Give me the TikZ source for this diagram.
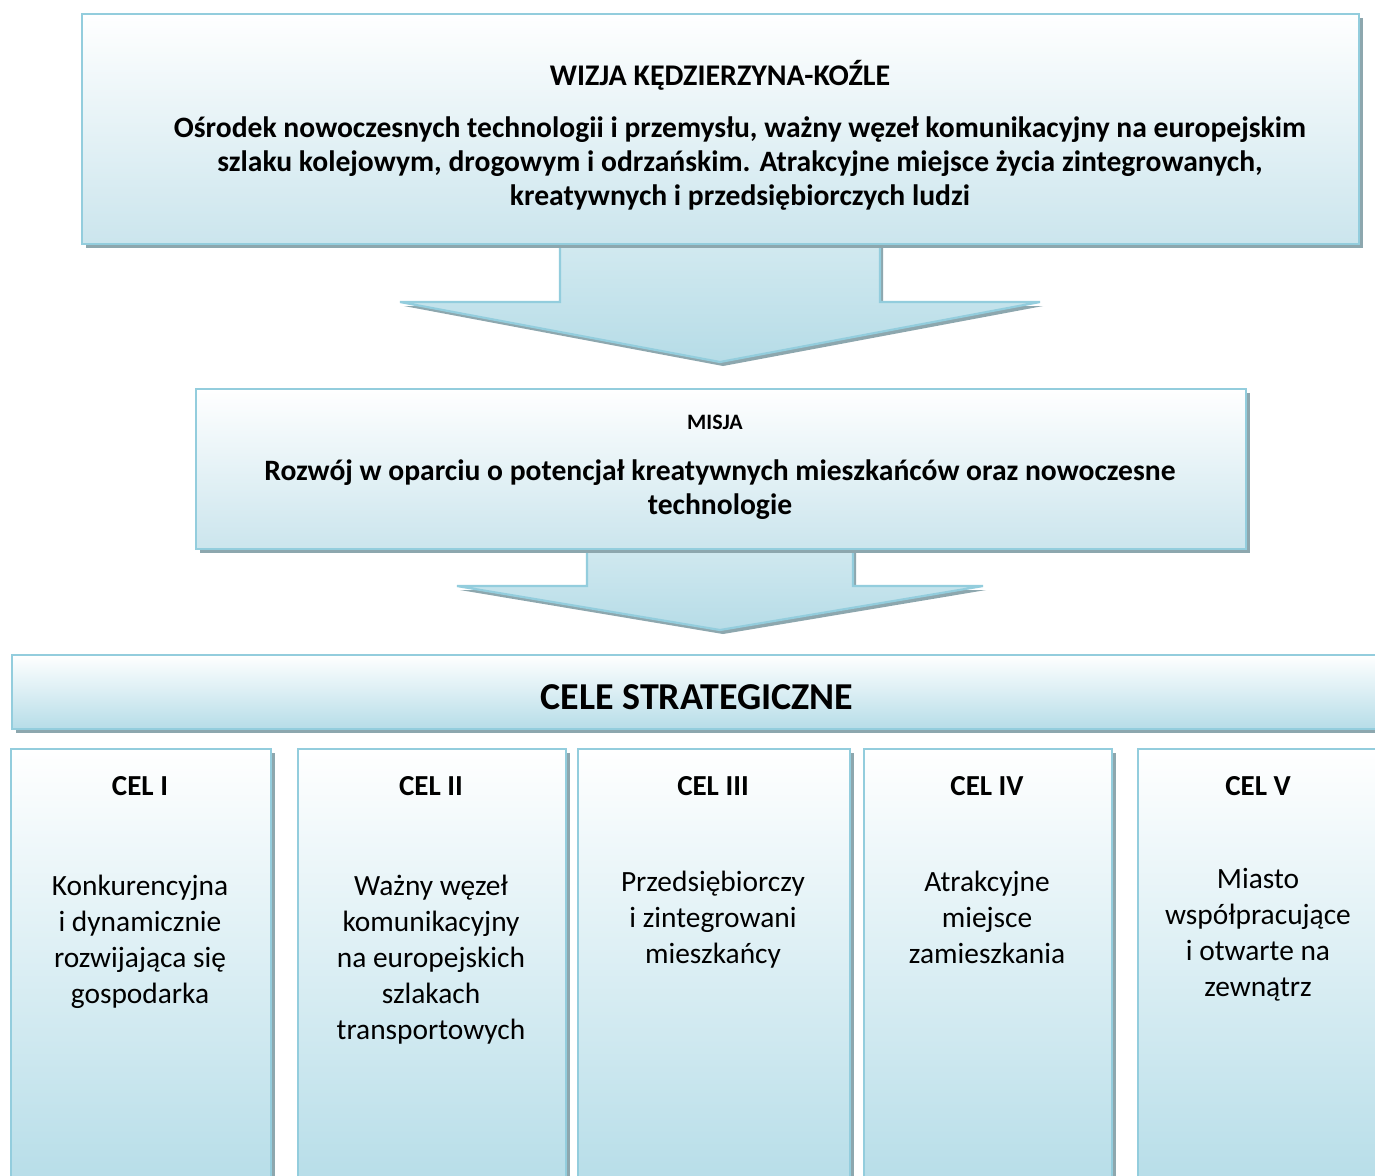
\documentclass[tikz,border=0pt]{standalone}
\usepackage{fontspec}
\setmainfont{Carlito}
\usetikzlibrary{shadows}
\definecolor{bordc}{HTML}{93CDDD}
\definecolor{shadc}{HTML}{8DA7AE}
\definecolor{boxbot}{HTML}{CBE5ED}
\definecolor{barbot}{HTML}{B6DDE8}
\definecolor{arrtop}{HTML}{D5EBF1}
\definecolor{arrbot}{HTML}{B6DCE7}
\begin{document}
\begin{tikzpicture}[x=0.5pt,y=-0.5pt,
  panel/.style={draw=bordc, line width=1.1pt, anchor=north west, inner sep=0pt,
    top color=white, bottom color=boxbot,
    drop shadow={shadow xshift=1.7pt, shadow yshift=-1.7pt, fill=shadc, opacity=1}},
  celbox/.style={panel, bottom color=barbot, minimum height=220pt},
  arrowshape/.style={draw=bordc, line width=1.1pt, top color=arrtop, bottom color=arrbot, line join=miter},
  arrowshadow/.style={fill=shadc},
  hbold/.style={font=\bfseries\fontsize{14.8}{17}\selectfont, align=center},
  hhead/.style={font=\bfseries\fontsize{15}{17}\selectfont},
  hsmall/.style={font=\bfseries\fontsize{11}{13}\selectfont},
  celtitle/.style={font=\bfseries\fontsize{14.5}{17}\selectfont},
  celtext/.style={font=\fontsize{14.7}{18}\selectfont, align=center},
  bigtitle/.style={font=\bfseries\fontsize{19}{22}\selectfont}
]
\useasboundingbox (0,0) rectangle (1375,1175);
\clip (0,0) rectangle (1375,1175);
\fill[white] (0,0) rectangle (1375,1175);

% arrow 1 (behind boxes)
\fill[arrowshadow] (563,230) -- (563,306) -- (404,306) -- (723,366) -- (1043,306) -- (883,306) -- (883,230) -- cycle;
\path[arrowshape] (560,230) -- (560,302) -- (400,302) -- (720,362) -- (1040,302) -- (880,302) -- (880,230) -- cycle;
% arrow 2
\fill[arrowshadow] (590,535) -- (590,590) -- (460,590) -- (723,634) -- (986,590) -- (856,590) -- (856,535) -- cycle;
\path[arrowshape] (587,535) -- (587,586) -- (457,586) -- (720,630) -- (983,586) -- (853,586) -- (853,535) -- cycle;

% boxes
\node[panel, minimum width=638.5pt, minimum height=115pt] (wizja) at (81,13) {};
\node[panel, minimum width=525pt, minimum height=80pt] (misja) at (195,388) {};
\node[panel, bottom color=barbot, minimum width=690pt, minimum height=37pt] (bar) at (11,654) {};
\node[celbox, minimum width=130pt] (c1) at (10,748) {};
\node[celbox, minimum width=134pt] (c2) at (297,748) {};
\node[celbox, minimum width=136pt] (c3) at (577,748) {};
\node[celbox, minimum width=124pt] (c4) at (863,748) {};
\node[celbox, minimum width=130pt] (c5) at (1137,748) {};

% texts
\node[hhead] (wizjaT) at (720,75) {WIZJA KĘDZIERZYNA-KOŹLE};
\node[hbold] (wizjaB) at (740,163) {Ośrodek nowoczesnych technologii i przemysłu, ważny węzeł komunikacyjny na europejskim\\szlaku kolejowym, drogowym i odrzańskim. Atrakcyjne miejsce życia zintegrowanych,\\kreatywnych i przedsiębiorczych ludzi};
\node[hsmall] (misjaT) at (715,422) {MISJA};
\node[hbold] (misjaB) at (720,490) {Rozwój w oparciu o potencjał kreatywnych mieszkańców oraz nowoczesne\\technologie};
\node[bigtitle] (barT) at (697,697) {CELE STRATEGICZNE};

\node[celtitle] (c1T) at (140,786) {CEL I};
\node[celtitle] (c2T) at (431,786) {CEL II};
\node[celtitle] (c3T) at (713,786) {CEL III};
\node[celtitle] (c4T) at (987,786) {CEL IV};
\node[celtitle] (c5T) at (1258,786) {CEL V};

\node[celtext] (c1B) at (140,942) {Konkurencyjna\\i dynamicznie\\rozwijająca się\\gospodarka};
\node[celtext] (c2B) at (431,960) {Ważny węzeł\\komunikacyjny\\na europejskich\\szlakach\\transportowych};
\node[celtext] (c3B) at (713,920) {Przedsiębiorczy\\i zintegrowani\\mieszkańcy};
\node[celtext] (c4B) at (987,917) {Atrakcyjne\\miejsce\\zamieszkania};
\node[celtext] (c5B) at (1258,935) {Miasto\\współpracujące\\i otwarte na\\zewnątrz};
\end{tikzpicture}
\end{document}
